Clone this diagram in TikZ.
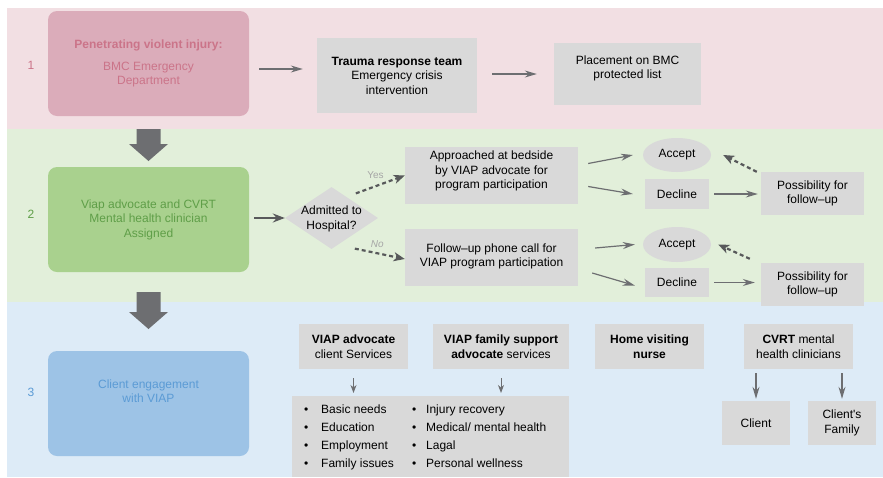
\documentclass[tikz,border=0pt]{standalone}
\usepackage{fontspec}
\setmainfont{Liberation Sans}
\usetikzlibrary{arrows.meta,shapes.geometric,calc}

\definecolor{bandpink}{HTML}{F2DFE3}
\definecolor{bandgreen}{HTML}{E2EFDA}
\definecolor{bandblue}{HTML}{DDEBF7}
\definecolor{boxpink}{HTML}{DBACBA}
\definecolor{textpink}{HTML}{CB7489}
\definecolor{boxgreen}{HTML}{A9D18E}
\definecolor{textgreen}{HTML}{5F9E48}
\definecolor{boxblue}{HTML}{9DC3E6}
\definecolor{textblue}{HTML}{5B9BD5}
\definecolor{boxgray}{HTML}{D9D9D9}
\definecolor{arrowgray}{HTML}{6D6E71}
\definecolor{linkgray}{HTML}{58595B}
\definecolor{labelgray}{HTML}{A6A6A6}

% invisible strut that lifts the text inside a box
\newcommand{\padbelow}[1]{\rule[-#1]{0pt}{#1}}
% big grey drop arrow between the stages
\newcommand{\bigdrop}[3]{\fill[arrowgray] (#1-12,#2) -- (#1+12,#2) -- (#1+12,#3-17) -- (#1+19.5,#3-17) -- (#1,#3) -- (#1-19.5,#3-17) -- (#1-12,#3-17) -- cycle;}

\tikzset{
  stagebox/.style={rounded corners=9pt, minimum width=201pt, minimum height=105pt, align=center, inner sep=0pt},
  graybox/.style={fill=boxgray, align=center, inner sep=0pt},
  flow/.style={draw=arrowgray, line width=1.2pt, -{Stealth[length=12pt,width=7pt,inset=4pt]}},
  smallflow/.style={draw=arrowgray, line width=1pt, -{Stealth[length=8pt,width=6pt,inset=2.5pt]}},
  thickflow/.style={draw=linkgray, line width=2.4pt, -{Stealth[length=12pt,width=9pt,inset=4pt]}},
  dashflow/.style={draw=linkgray, line width=2.2pt, dash pattern=on 4pt off 3pt, -{Stealth[length=11pt,width=9pt,inset=3pt]}},
  labeltag/.style={text=labelgray, font=\fontsize{10}{12}\selectfont, inner sep=1pt}
}

\begin{document}
\begin{tikzpicture}[x=1pt,y=-1pt,font=\fontsize{12}{14.5}\selectfont]
\useasboundingbox (0,0) rectangle (883,477);

% stage bands
\fill[bandpink] (7,8) rectangle (883,129);
\fill[bandgreen] (7,129) rectangle (883,302);
\fill[bandblue] (7,302) rectangle (883,477);

% stage 1
\node[text=textpink] (num1) at (31,65) {1};
\node[stagebox, fill=boxpink, text=textpink] (injury) at (148.5,63.5) {\textbf{Penetrating violent injury:}\\[7.5pt]BMC Emergency\\Department};
\node[graybox, minimum width=160pt, minimum height=75pt] (trauma) at (397,75.5) {\textbf{Trauma response team}\\Emergency crisis\\intervention};
\node[graybox, minimum width=147pt, minimum height=62pt] (protect) at (627.5,74) {Placement on BMC\\protected list\padbelow{14pt}};

\draw[flow, shorten <=10pt, shorten >=14pt] ([yshift=-5.5pt]injury.east) -- ([yshift=6.5pt]trauma.west);
\draw[flow, shorten <=15pt, shorten >=17pt] (trauma.east |- protect.west) -- (protect.west);

\bigdrop{148.5}{129}{161}

% stage 2
\node[text=textgreen] (num2) at (31,214) {2};
\node[stagebox, fill=boxgreen, text=textgreen] (assign) at (148.5,219.5) {Viap advocate and CVRT\\Mental health clinician\\Assigned};
\node[diamond, fill=boxgray, minimum width=93pt, minimum height=62pt, inner sep=0pt] (admit) at (331.5,218) {\makebox[0pt]{\smash{\raisebox{-4pt}{\begin{tabular}{@{}c@{}}Admitted to\\Hospital?\end{tabular}}}}};

\node[graybox, minimum width=173pt, minimum height=57pt] (approach) at (491.5,175.5) {Approached at bedside\\by VIAP advocate for\\program participation\padbelow{11pt}};
\node[graybox, minimum width=173pt, minimum height=57pt] (phone) at (491.5,257.5) {Follow–up phone call for\\VIAP program participation\padbelow{5pt}};

\node[ellipse, fill=boxgray, minimum width=68pt, minimum height=34pt, inner sep=0pt] (accept1) at (677,155) {Accept};
\node[graybox, minimum width=64pt, minimum height=30pt] (decline1) at (677,194) {Decline};
\node[graybox, minimum width=103pt, minimum height=43pt] (maybe1) at (812.5,193.5) {Possibility for\\follow–up};

\node[ellipse, fill=boxgray, minimum width=68pt, minimum height=35pt, inner sep=0pt] (accept2) at (677,244.5) {Accept};
\node[graybox, minimum width=64pt, minimum height=29pt] (decline2) at (677,282.5) {Decline};
\node[graybox, minimum width=103pt, minimum height=43pt] (maybe2) at (812.5,284.5) {Possibility for\\follow–up};

\draw[thickflow, shorten <=5pt] (assign.east |- admit.west) -- (admit.west);
\draw[dashflow] ([xshift=1pt,yshift=9pt]admit.north east) -- (approach.west) node[pos=.4, above=6pt, labeltag] {Yes};
\draw[dashflow] ([yshift=-15pt]admit.south east) -- ([yshift=-1.5pt]phone.west) node[pos=.45, above=4pt, labeltag] {\itshape No};

\draw[flow] ([xshift=10pt,yshift=12pt]approach.east) -- ([xshift=-10pt]accept1.west);
\draw[flow] ([xshift=10pt,yshift=-11pt]approach.east) -- ([xshift=-12pt]decline1.west);
\draw[flow, shorten <=5pt, shorten >=3pt] (decline1.east) -- (decline1.east -| maybe1.west);
\draw[dashflow] ([xshift=-4pt]maybe1.north west) -- ([xshift=12pt]accept1.east);

\draw[flow] ([xshift=17pt,yshift=9.5pt]phone.east) -- ([xshift=-8pt]accept2.west);
\draw[flow] ([xshift=14pt,yshift=-15.5pt]phone.east) -- ([xshift=-10pt,yshift=-3pt]decline2.west);
\draw[flow, shorten <=5pt, shorten >=6pt] (decline2.east) -- (decline2.east -| maybe2.west);
\draw[dashflow] ([xshift=-11pt,yshift=4pt]maybe2.north west) -- ([xshift=7pt]accept2.east);

\bigdrop{148.5}{292}{329}

% stage 3
\node[text=textblue] (num3) at (31,392) {3};
\node[stagebox, fill=boxblue, text=textblue] (engage) at (148.5,403.5) {Client engagement\\with VIAP\padbelow{25pt}};

\node[graybox, minimum width=109pt, minimum height=45pt] (advocate) at (353.5,346.5) {\textbf{VIAP advocate}\\client Services};
\node[graybox, minimum width=136pt, minimum height=45pt] (family) at (501,346.5) {\textbf{VIAP family support}\\\textbf{advocate} services};
\node[graybox, minimum width=109pt, minimum height=45pt] (nurse) at (649.5,346.5) {\textbf{Home visiting}\\\textbf{nurse}};
\node[graybox, minimum width=109pt, minimum height=45pt] (cvrt) at (798.5,346.5) {\textbf{CVRT} mental\\health clinicians};

\node[graybox, anchor=north west, minimum width=277pt, minimum height=81pt, inner xsep=12pt] (needs) at (292,396) {\renewcommand{\arraystretch}{1.24}%
\begin{tabular}{@{}p{108pt}@{}p{145pt}@{}}
\makebox[17pt][l]{\textbullet}Basic needs & \makebox[14pt][l]{\textbullet}Injury recovery\\
\makebox[17pt][l]{\textbullet}Education & \makebox[14pt][l]{\textbullet}Medical/ mental health\\
\makebox[17pt][l]{\textbullet}Employment & \makebox[14pt][l]{\textbullet}Lagal\\
\makebox[17pt][l]{\textbullet}Family issues & \makebox[14pt][l]{\textbullet}Personal wellness
\end{tabular}};

\node[graybox, minimum width=68pt, minimum height=44pt] (client) at (756,423) {Client};
\node[graybox, minimum width=68pt, minimum height=44pt] (kin) at (842,423) {Client\textquotesingle s\\Family};

\draw[smallflow, shorten <=9pt, shorten >=3pt] (advocate.south) -- (advocate.south |- needs.north);
\draw[smallflow, shorten <=9pt, shorten >=3pt] (family.south) -- (family.south |- needs.north);
\draw[flow, shorten <=4pt, shorten >=2pt] (client.north |- cvrt.south) -- (client.north);
\draw[flow, shorten <=4pt, shorten >=2pt] (kin.north |- cvrt.south) -- (kin.north);
\end{tikzpicture}
\end{document}
